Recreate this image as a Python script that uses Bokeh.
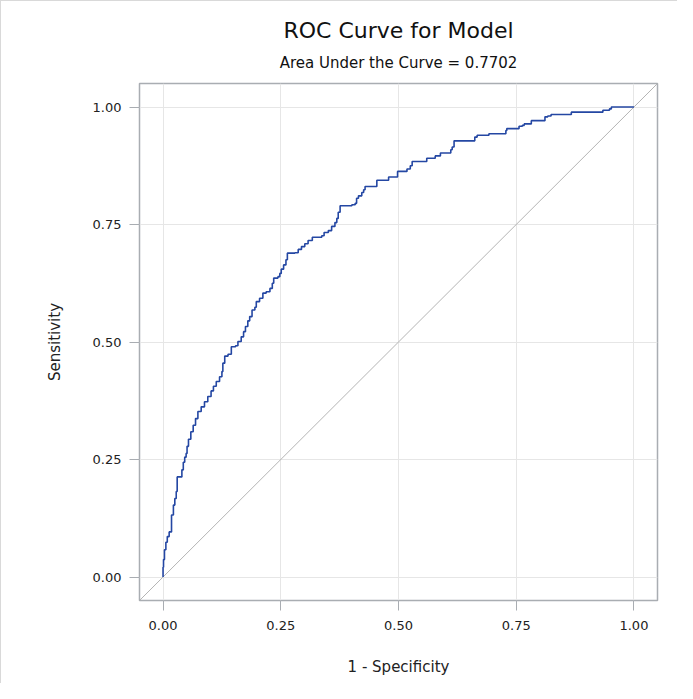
from bokeh.plotting import figure
from bokeh.models import Range1d, Title, FixedTicker
from bokeh.embed import file_html
from bokeh.resources import INLINE

# ROC curve points (1 - specificity, sensitivity)
fpr = [0.000, 0.000, 0.001, 0.003, 0.006, 0.009, 0.013, 0.018, 0.022, 0.025,
       0.028, 0.030, 0.040, 0.040, 0.043, 0.046, 0.049, 0.051, 0.054, 0.059,
       0.064, 0.069, 0.074, 0.081, 0.088, 0.095, 0.102, 0.107, 0.113, 0.120,
       0.125, 0.127, 0.131, 0.138, 0.145, 0.154, 0.159, 0.166, 0.171, 0.175,
       0.180, 0.184, 0.189, 0.195, 0.198, 0.205, 0.212, 0.219, 0.227, 0.232,
       0.235, 0.244, 0.248, 0.251, 0.256, 0.261, 0.264, 0.280, 0.287, 0.294,
       0.301, 0.308, 0.317, 0.337, 0.342, 0.351, 0.358, 0.365, 0.369, 0.372,
       0.376, 0.397, 0.401, 0.408, 0.411, 0.415, 0.422, 0.426, 0.429, 0.451,
       0.454, 0.479, 0.479, 0.497, 0.498, 0.515, 0.518, 0.525, 0.529, 0.557,
       0.560, 0.575, 0.578, 0.586, 0.589, 0.607, 0.611, 0.614, 0.618, 0.659,
       0.662, 0.667, 0.689, 0.692, 0.724, 0.728, 0.730, 0.753, 0.756, 0.763,
       0.767, 0.781, 0.782, 0.808, 0.811, 0.817, 0.824, 0.866, 0.867, 0.930,
       0.934, 0.948, 0.952, 1.000]
tpr = [0.000, 0.021, 0.037, 0.058, 0.074, 0.086, 0.096, 0.132, 0.153, 0.167,
       0.182, 0.213, 0.213, 0.228, 0.244, 0.255, 0.263, 0.278, 0.293, 0.309,
       0.323, 0.337, 0.352, 0.362, 0.373, 0.384, 0.396, 0.406, 0.416, 0.426,
       0.437, 0.455, 0.470, 0.474, 0.490, 0.492, 0.501, 0.511, 0.522, 0.533,
       0.545, 0.554, 0.568, 0.574, 0.586, 0.593, 0.604, 0.607, 0.614, 0.625,
       0.636, 0.639, 0.646, 0.655, 0.664, 0.675, 0.689, 0.690, 0.697, 0.703,
       0.709, 0.716, 0.723, 0.726, 0.733, 0.737, 0.746, 0.754, 0.763, 0.776,
       0.790, 0.790, 0.792, 0.795, 0.806, 0.811, 0.818, 0.824, 0.831, 0.831,
       0.844, 0.844, 0.851, 0.851, 0.863, 0.863, 0.868, 0.875, 0.884, 0.884,
       0.891, 0.891, 0.896, 0.896, 0.902, 0.902, 0.909, 0.915, 0.928, 0.928,
       0.936, 0.940, 0.940, 0.943, 0.943, 0.950, 0.954, 0.954, 0.959, 0.961,
       0.964, 0.964, 0.971, 0.971, 0.979, 0.981, 0.984, 0.984, 0.989, 0.989,
       0.993, 0.996, 1.000, 1.000]

diag = [-0.05, 1.05]
ticks = [0.0, 0.25, 0.5, 0.75, 1.0]
tick_labels = {0.0: "0.00", 0.25: "0.25", 0.5: "0.50", 0.75: "0.75", 1.0: "1.00"}
title_text = "ROC Curve for Model"
subtitle_text = "Area Under the Curve = 0.7702"
xlabel = "1 - Specificity"
ylabel = "Sensitivity"

FONT = "DejaVu Sans"
AXIS_COLOR = "#a9adb2"

main = Title(text=title_text, align="center", text_font=FONT,
             text_font_size="22px", text_font_style="normal",
             text_color="#111111", standoff=0, vertical_align="top")
p = figure(width=677, height=683, output_backend="svg", toolbar_location=None,
           x_range=Range1d(-0.05, 1.05), y_range=Range1d(-0.05, 1.05),
           min_border_left=138, min_border_right=21, min_border_top=82,
           min_border_bottom=84, title=main)
p.add_layout(Title(text=subtitle_text, align="center", text_font=FONT,
                   text_font_size="15px", text_font_style="normal",
                   text_color="#111111", standoff=19, vertical_align="top"),
             "above")
p.styles = {"border-left": "1px solid #d9d9d9", "border-top": "1px solid #d9d9d9"}
p.outline_line_color = AXIS_COLOR
p.outline_line_width = 1.5
p.background_fill_color = "white"
p.border_fill_color = "white"

for ax, lab in ((p.xaxis[0], xlabel), (p.yaxis[0], ylabel)):
    ax.ticker = FixedTicker(ticks=ticks)
    ax.major_label_overrides = tick_labels
    ax.axis_label = lab
    ax.axis_label_text_font = FONT
    ax.axis_label_text_font_size = "15px"
    ax.axis_label_text_font_style = "normal"
    ax.axis_label_text_color = "#222222"
    ax.major_label_text_font = FONT
    ax.major_label_text_font_size = "13px"
    ax.major_label_text_color = "#222222"
    ax.axis_line_color = None
    ax.major_tick_line_color = AXIS_COLOR
    ax.major_tick_out = 10
    ax.major_tick_in = 0
    ax.minor_tick_line_color = None
    ax.major_label_standoff = 8

p.xaxis[0].major_label_standoff = 10
p.xaxis[0].axis_label_standoff = 25
p.yaxis[0].axis_label_standoff = 26

p.xgrid.ticker = FixedTicker(ticks=ticks)
p.ygrid.ticker = FixedTicker(ticks=ticks)
p.xgrid.grid_line_color = "#e6e6e6"
p.ygrid.grid_line_color = "#e6e6e6"

p.line(diag, diag, line_color="#b4b4b4", line_width=1)
p.step(fpr, tpr, mode="after", line_color="#2447a3", line_width=1.6)

open("out.html", "w").write(file_html(p, INLINE))
